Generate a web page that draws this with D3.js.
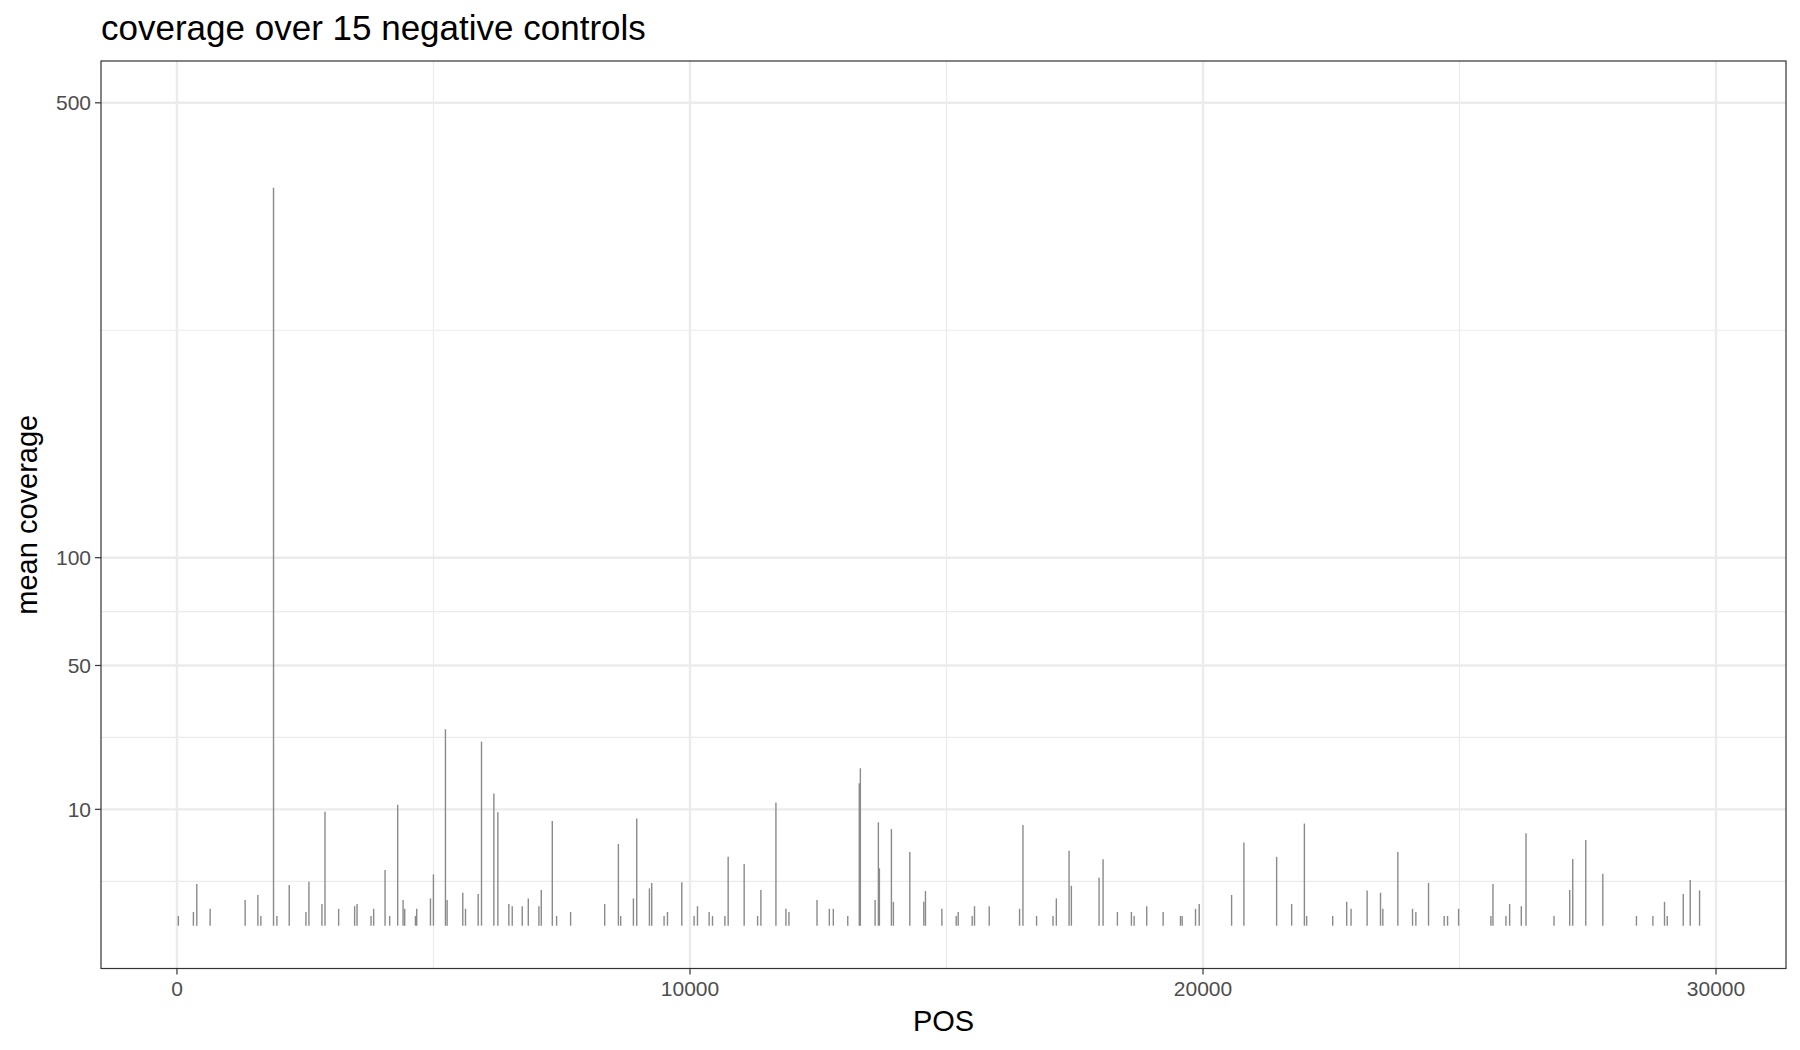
<!DOCTYPE html>
<html>
<head>
<meta charset="utf-8">
<script src="https://cdn.jsdelivr.net/npm/d3@7"></script>
<style>
  body { margin: 0; background: #fff; }
  text { font-family: "Liberation Sans", Arial, sans-serif; }
</style>
</head>
<body>
<svg width="1800" height="1050"></svg>
<script>
// genome position of each bar and its mean coverage
const positions = [27, 320, 386, 646, 1329, 1577, 1635, 1882, 1948, 2188, 2514, 2572, 2826, 2885,
  3151, 3463, 3510, 3783, 3834, 4056, 4146, 4302, 4407, 4439, 4648, 4673, 4941, 4999, 5233, 5266,
  5571, 5624, 5871, 5936, 6177, 6255, 6469, 6535, 6730, 6848, 7055, 7101, 7316, 7400, 7673, 8337,
  8604, 8649, 8897, 8962, 9209, 9254, 9495, 9561, 9840, 10080, 10146, 10373, 10439, 10680, 10744,
  11056, 11318, 11382, 11675, 11870, 11929, 12476, 12716, 12794, 13075, 13300, 13321, 13608, 13672,
  13692, 13926, 13965, 14285, 14558, 14590, 14910, 15189, 15228, 15501, 15546, 15833, 16424, 16490,
  16756, 17076, 17141, 17389, 17434, 17974, 18052, 18331, 18604, 18657, 18903, 19223, 19561, 19594,
  19854, 19926, 20557, 20797, 21435, 21728, 21976, 22020, 22528, 22801, 22886, 23199, 23460, 23505,
  23798, 24084, 24149, 24396, 24701, 24767, 24982, 25612, 25652, 25905, 25977, 26204, 26296, 26842,
  27148, 27207, 27461, 27793, 28449, 28769, 28996, 29049, 29361, 29497, 29679];
const coverage = [0.07, 0.14, 1.28, 0.21, 0.49, 0.70, 0.07, 402, 0.07, 1.22, 0.14, 1.43, 0.35, 9.6,
  0.21, 0.28, 0.35, 0.07, 0.21, 2.29, 0.07, 10.8, 0.49, 0.21, 0.07, 0.21, 0.55, 1.95, 28.5, 0.49,
  0.80, 0.21, 0.74, 25, 12.9, 9.5, 0.35, 0.28, 0.28, 0.55, 0.28, 0.94, 8.1, 0.07, 0.14, 0.35,
  4.93, 0.07, 0.55, 8.5, 1.03, 1.35, 0.07, 0.14, 1.4, 0.07, 0.28, 0.14, 0.07, 0.07, 3.5,
  2.8, 0.07, 0.94, 11.2, 0.21, 0.14, 0.49, 0.21, 0.21, 0.07, 15, 18.3, 0.49, 7.9,
  2.43, 6.9, 0.42, 4.0, 0.42, 0.89, 0.21, 0.07, 0.14, 0.07, 0.28, 0.28, 0.21, 7.5,
  0.07, 0.07, 0.55, 4.15, 1.18, 1.7, 3.26, 0.14, 0.14, 0.07, 0.28, 0.14, 0.07, 0.07,
  0.21, 0.35, 0.70, 5.1, 3.5, 0.35, 7.7, 0.07, 0.07, 0.42, 0.21, 0.92, 0.80, 0.21,
  4.0, 0.21, 0.14, 1.35, 0.07, 0.07, 0.21, 0.07, 1.28, 0.07, 0.35, 0.28, 6.3, 0.07,
  0.94, 3.28, 5.42, 2.0, 0.07, 0.07, 0.42, 0.07, 0.74, 1.54, 0.92];
const xTicks = [0, 10000, 20000, 30000];
const yTicks = [10, 50, 100, 500];

const data = positions.map((p, i) => ({pos: p, cov: coverage[i]}));

const panel = {l: 101, r: 1786, t: 61, b: 968.5};
const svg = d3.select('svg');

const x = d3.scaleLinear().domain([-1481, 31364]).range([panel.l, panel.r]);
// sqrt transformed axis, linear in sqrt space so it can go below zero like ggplot
const yT = d3.scaleLinear().domain([-1.163, 23.497]).range([panel.b, panel.t]);
const y = v => yT(Math.sqrt(v));

const xMinor = [-5000, 5000, 15000, 25000].filter(d => x(d) > panel.l);
const yMinor = [1.207, 5.117, 8.536, 16.18];

const g = svg.append('g');
g.append('rect').attr('x', panel.l).attr('y', panel.t)
  .attr('width', panel.r - panel.l).attr('height', panel.b - panel.t).attr('fill', '#fff');

g.selectAll('.ymin').data(yMinor).join('line')
  .attr('x1', panel.l).attr('x2', panel.r).attr('y1', d => yT(d)).attr('y2', d => yT(d))
  .attr('stroke', '#ebebeb').attr('stroke-width', 1.2);
g.selectAll('.xmin').data(xMinor).join('line')
  .attr('y1', panel.t).attr('y2', panel.b).attr('x1', d => x(d)).attr('x2', d => x(d))
  .attr('stroke', '#ebebeb').attr('stroke-width', 1.2);
g.selectAll('.ymaj').data(yTicks).join('line')
  .attr('x1', panel.l).attr('x2', panel.r).attr('y1', d => y(d)).attr('y2', d => y(d))
  .attr('stroke', '#ebebeb').attr('stroke-width', 2.4);
g.selectAll('.xmaj').data(xTicks).join('line')
  .attr('y1', panel.t).attr('y2', panel.b).attr('x1', d => x(d)).attr('x2', d => x(d))
  .attr('stroke', '#ebebeb').attr('stroke-width', 2.4);

// bars
g.selectAll('.bar').data(data).join('line')
  .attr('x1', d => x(d.pos)).attr('x2', d => x(d.pos))
  .attr('y1', y(0)).attr('y2', d => y(d.cov))
  .attr('stroke', '#8a8a8a').attr('stroke-width', 1.4);

g.append('rect').attr('x', panel.l).attr('y', panel.t)
  .attr('width', panel.r - panel.l).attr('height', panel.b - panel.t)
  .attr('fill', 'none').attr('stroke', '#333').attr('stroke-width', 1.2);

// axes ticks and labels
g.selectAll('.xt').data(xTicks).join('line')
  .attr('x1', d => x(d)).attr('x2', d => x(d)).attr('y1', panel.b).attr('y2', panel.b + 6)
  .attr('stroke', '#333').attr('stroke-width', 1.2);
g.selectAll('.xl').data(xTicks).join('text')
  .attr('x', d => x(d)).attr('y', panel.b + 27).attr('text-anchor', 'middle')
  .attr('font-size', 21).attr('fill', '#4d4d4d').text(d => d);
g.selectAll('.yt').data(yTicks).join('line')
  .attr('x1', panel.l - 6).attr('x2', panel.l).attr('y1', d => y(d)).attr('y2', d => y(d))
  .attr('stroke', '#333').attr('stroke-width', 1.2);
g.selectAll('.yl').data(yTicks).join('text')
  .attr('x', panel.l - 10).attr('y', d => y(d) + 7.5).attr('text-anchor', 'end')
  .attr('font-size', 21).attr('fill', '#4d4d4d').text(d => d);

svg.append('text').attr('x', (panel.l + panel.r) / 2).attr('y', 1031)
  .attr('text-anchor', 'middle').attr('font-size', 29).attr('fill', '#000').text('POS');
svg.append('text').attr('transform', `translate(37,${(panel.t + panel.b) / 2}) rotate(-90)`)
  .attr('text-anchor', 'middle').attr('font-size', 29).attr('fill', '#000').text('mean coverage');
svg.append('text').attr('x', panel.l).attr('y', 40)
  .attr('font-size', 35).attr('fill', '#000').text('coverage over 15 negative controls');
</script>
</body>
</html>
